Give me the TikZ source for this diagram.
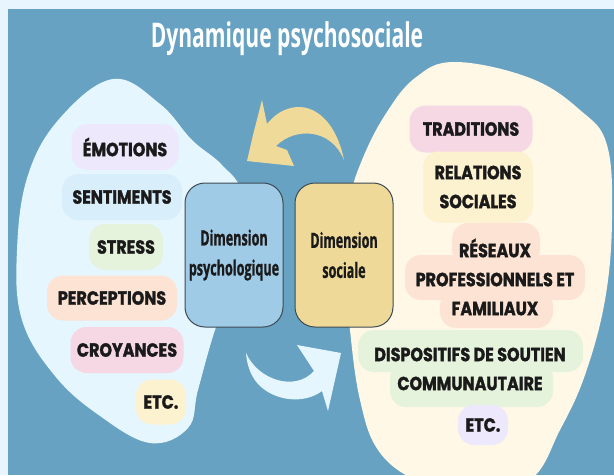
\documentclass[tikz,border=0pt]{standalone}
\usepackage{fontspec}
\newfontfamily\titlefont{Open Sans}[FakeStretch=0.62]
\newfontfamily\dimfont{Open Sans}[FakeStretch=0.6, FakeBold=0.8]
\newfontfamily\tagfont{Poppins}[FakeStretch=0.84, FakeBold=1.5]

\definecolor{pagebg}{HTML}{E8F5FE}
\definecolor{panel}{HTML}{67A2C3}
\definecolor{psyblob}{HTML}{E6F6FE}
\definecolor{socblob}{HTML}{FFF8E7}
\definecolor{psybox}{HTML}{9FCBE7}
\definecolor{socbox}{HTML}{EFD999}
\definecolor{boxline}{HTML}{3D4A52}
\definecolor{goldarrow}{HTML}{F0DA9A}
\definecolor{lavender}{HTML}{EDE8FB}
\definecolor{skyp}{HTML}{D9EEFB}
\definecolor{greenp}{HTML}{E5F3DC}
\definecolor{peachp}{HTML}{FDE3D3}
\definecolor{pinkp}{HTML}{F6D8E5}
\definecolor{creamp}{HTML}{FDF2CF}
\definecolor{ink}{HTML}{1A1A1A}

\tikzset{
  pill/.style={fill=#1, rounded corners=16pt, inner sep=0pt, text=ink,
    font=\tagfont\bfseries\fontsize{19}{29}\selectfont, align=center},
  pillbg/.style={fill=#1, rounded corners=16pt},
  tagtext/.style={inner sep=0pt, text=ink, align=center,
    font=\tagfont\bfseries\fontsize{19}{29}\selectfont},
  dimbox/.style={fill=#1, draw=boxline, line width=1pt, rounded corners=20pt,
    minimum width=98pt, minimum height=144pt, inner sep=0pt, align=center,
    text=ink, font=\dimfont\bfseries\fontsize{21}{30}\selectfont}
}

\begin{document}
\begin{tikzpicture}[x=1pt,y=-1pt]
\useasboundingbox (0,0) rectangle (614,475);
\fill[pagebg] (0,0) rectangle (614,475);
\fill[panel] (8,9) rectangle (614,475);

% background blobs
\begin{scope}
\clip (8,9) rectangle (614,475);
\fill[psyblob] plot[smooth cycle, tension=0.65] coordinates {
  (113,79) (160,104) (192,140) (222,165) (242,195) (240,260) (215,330)
  (198,390) (188,428) (150,443) (100,416) (55,376) (22,320) (17,250)
  (28,175) (60,118)};
\fill[socblob] plot[smooth cycle, tension=0.65] coordinates {
  (455,62) (530,78) (580,110) (607,145) (612,220) (605,300) (585,375)
  (560,430) (530,480) (470,497) (415,480) (378,450) (360,400) (350,330)
  (345,260) (350,200) (362,160) (385,115) (415,78)};
\end{scope}

% title
\node[anchor=base, text=white, inner sep=0pt,
  font=\titlefont\bfseries\fontsize{34}{34}\selectfont] (title) at (287,47)
  {Dynamique psychosociale};

% curved arrows between the two dimensions
\fill[goldarrow] (344,160) .. controls (337,125) and (318,106) .. (297,107)
  .. controls (284,108) and (274,115) .. (267,124) -- (262,100)
  -- (253,135) -- (247,161) -- (294,166) -- (287,150) -- (276,146)
  .. controls (295,127) and (331,128) .. (344,160) -- cycle;
\fill[psyblob] (246,353) .. controls (258,380) and (295,392) .. (314,371)
  -- (297,345) -- (341,353) -- (328,411) -- (322,391)
  .. controls (305,404) and (275,402) .. (258,384)
  .. controls (251,376) and (247,366) .. (246,353) -- cycle;

% the two dimensions
\node[dimbox=psybox] (psy) at (234,255) {Dimension\\psychologique};
\node[dimbox=socbox] (soc) at (344,255) {Dimension\\sociale};

% psychological components
\node[pill=lavender, minimum width=107pt, minimum height=46pt] (emo) at (125,147) {ÉMOTIONS};
\node[pill=skyp, minimum width=120pt, minimum height=46pt] (sent) at (122,197) {SENTIMENTS};
\node[pill=greenp, minimum width=74pt, minimum height=46pt] (stress) at (126,247) {STRESS};
\node[pill=peachp, minimum width=130pt, minimum height=45pt] (perc) at (112,298) {PERCEPTIONS};
\node[pill=pinkp, minimum width=113pt, minimum height=46pt] (croy) at (127,350) {CROYANCES};
\node[pill=creamp, minimum width=50pt, minimum height=45pt] (etcl) at (161,402) {ETC.};

% social components
\node[pill=pinkp, minimum width=123pt, minimum height=47pt] (trad) at (471,129) {TRADITIONS};
\node[pill=creamp, minimum width=110pt, minimum height=71pt] (rel) at (478,187) {RELATIONS\\SOCIALES};
\fill[pillbg=peachp] (452,223) rectangle (540,265);
\fill[pillbg=peachp] (405,255) rectangle (585,300);
\fill[pillbg=peachp] (440,290) rectangle (553,328);
\node[tagtext] (res) at (495,277) {RÉSEAUX\\PROFESSIONNELS ET\\FAMILIAUX};
\fill[pillbg=greenp] (358,330) rectangle (583,372);
\fill[pillbg=greenp] (390,362) rectangle (553,407);
\node[tagtext] (disp) at (470,369) {DISPOSITIFS DE SOUTIEN\\COMMUNAUTAIRE};
\node[pill=lavender, minimum width=50pt, minimum height=40pt] (etcr) at (483,425) {ETC.};
\end{tikzpicture}
\end{document}
